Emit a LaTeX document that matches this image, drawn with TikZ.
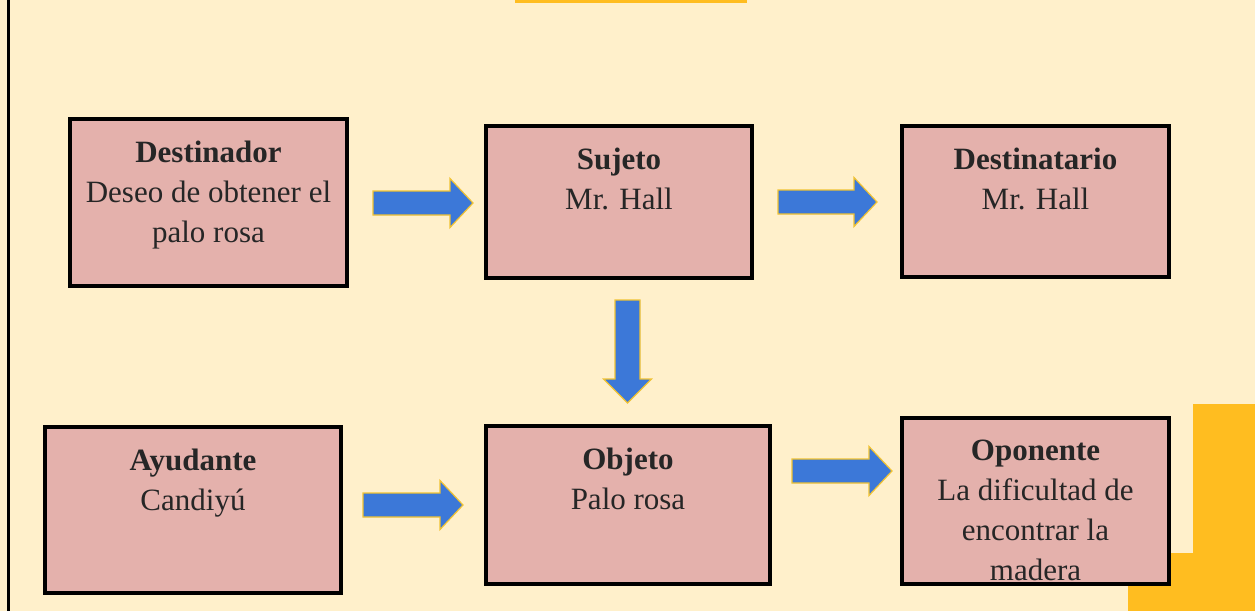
\documentclass[tikz,border=0pt]{standalone}
\usepackage{fontspec}
\setmainfont{Liberation Serif}
\definecolor{bgcream}{HTML}{FFF0CB}
\definecolor{boxpink}{HTML}{E4B1AC}
\definecolor{arrowblue}{HTML}{3C78D8}
\definecolor{arrowedge}{HTML}{F1C232}
\definecolor{accent}{HTML}{FFBD20}
\definecolor{txt}{HTML}{262626}
\tikzset{
  box/.style={draw=black, line width=3.5pt, fill=boxpink, inner sep=0pt},
  boxtext/.style={anchor=north, inner sep=0pt, align=center, text=txt,
    font=\fontsize{31}{40}\selectfont},
  barrow/.style={fill=arrowblue, draw=arrowedge, line width=1.2pt, line join=miter},
}
% right block arrow: x start, x tip, y centre
\newcommand\RBlockArrow[3]{%
  \draw[barrow] (#1,#3-12) -- (#2-23,#3-12) -- (#2-23,#3-24.5) -- (#2,#3)
    -- (#2-23,#3+24.5) -- (#2-23,#3+12) -- (#1,#3+12) -- cycle;}
\begin{document}
\begin{tikzpicture}[x=1pt,y=-1pt]
\useasboundingbox (0,0) rectangle (1255,611);
\fill[bgcream] (0,0) rectangle (1255,611);
% decorative shapes
\fill[accent] (515,0) rectangle (747,2.5);
\fill[accent] (1193,404) rectangle (1255,611);
\fill[accent] (1128,553) rectangle (1193,611);
\draw[black, line width=3pt] (8,0) -- (8,611);

% boxes
\node[box, minimum width=277pt, minimum height=167pt] (dest) at (208.5,202.5) {};
\node[box, minimum width=266pt, minimum height=152pt] (suj) at (619,202) {};
\node[box, minimum width=267pt, minimum height=151pt] (dtar) at (1035.5,201.5) {};
\node[box, minimum width=296pt, minimum height=166pt] (ayu) at (193,510) {};
\node[box, minimum width=284pt, minimum height=158pt] (obj) at (628,505) {};
\node[box, minimum width=267pt, minimum height=166pt] (opo) at (1035.5,501) {};

% texts
\node[boxtext] (destT) at ([yshift=-24pt]dest.north) {\textbf{Destinador}\\Deseo de obtener el\\palo rosa};
\node[boxtext] (sujT) at ([yshift=-24pt]suj.north) {\textbf{Sujeto}\\Mr. Hall};
\node[boxtext] (dtarT) at ([yshift=-24pt]dtar.north) {\textbf{Destinatario}\\Mr. Hall};
\node[boxtext] (ayuT) at ([yshift=-24pt]ayu.north) {\textbf{Ayudante}\\Candiyú};
\node[boxtext] (objT) at ([yshift=-24pt]obj.north) {\textbf{Objeto}\\Palo rosa};
\node[boxtext] (opoT) at ([yshift=-24pt]opo.north) {\textbf{Oponente}\\La dificultad de\\encontrar la\\madera};

% block arrows
\RBlockArrow{373}{473}{203}
\RBlockArrow{778}{877}{202}
\RBlockArrow{363}{463}{505}
\RBlockArrow{792}{892}{471}
\draw[barrow] (615,300) -- (640,300) -- (640,379) -- (651.5,379) -- (627.5,403)
  -- (603.5,379) -- (615,379) -- cycle;
\end{tikzpicture}
\end{document}
